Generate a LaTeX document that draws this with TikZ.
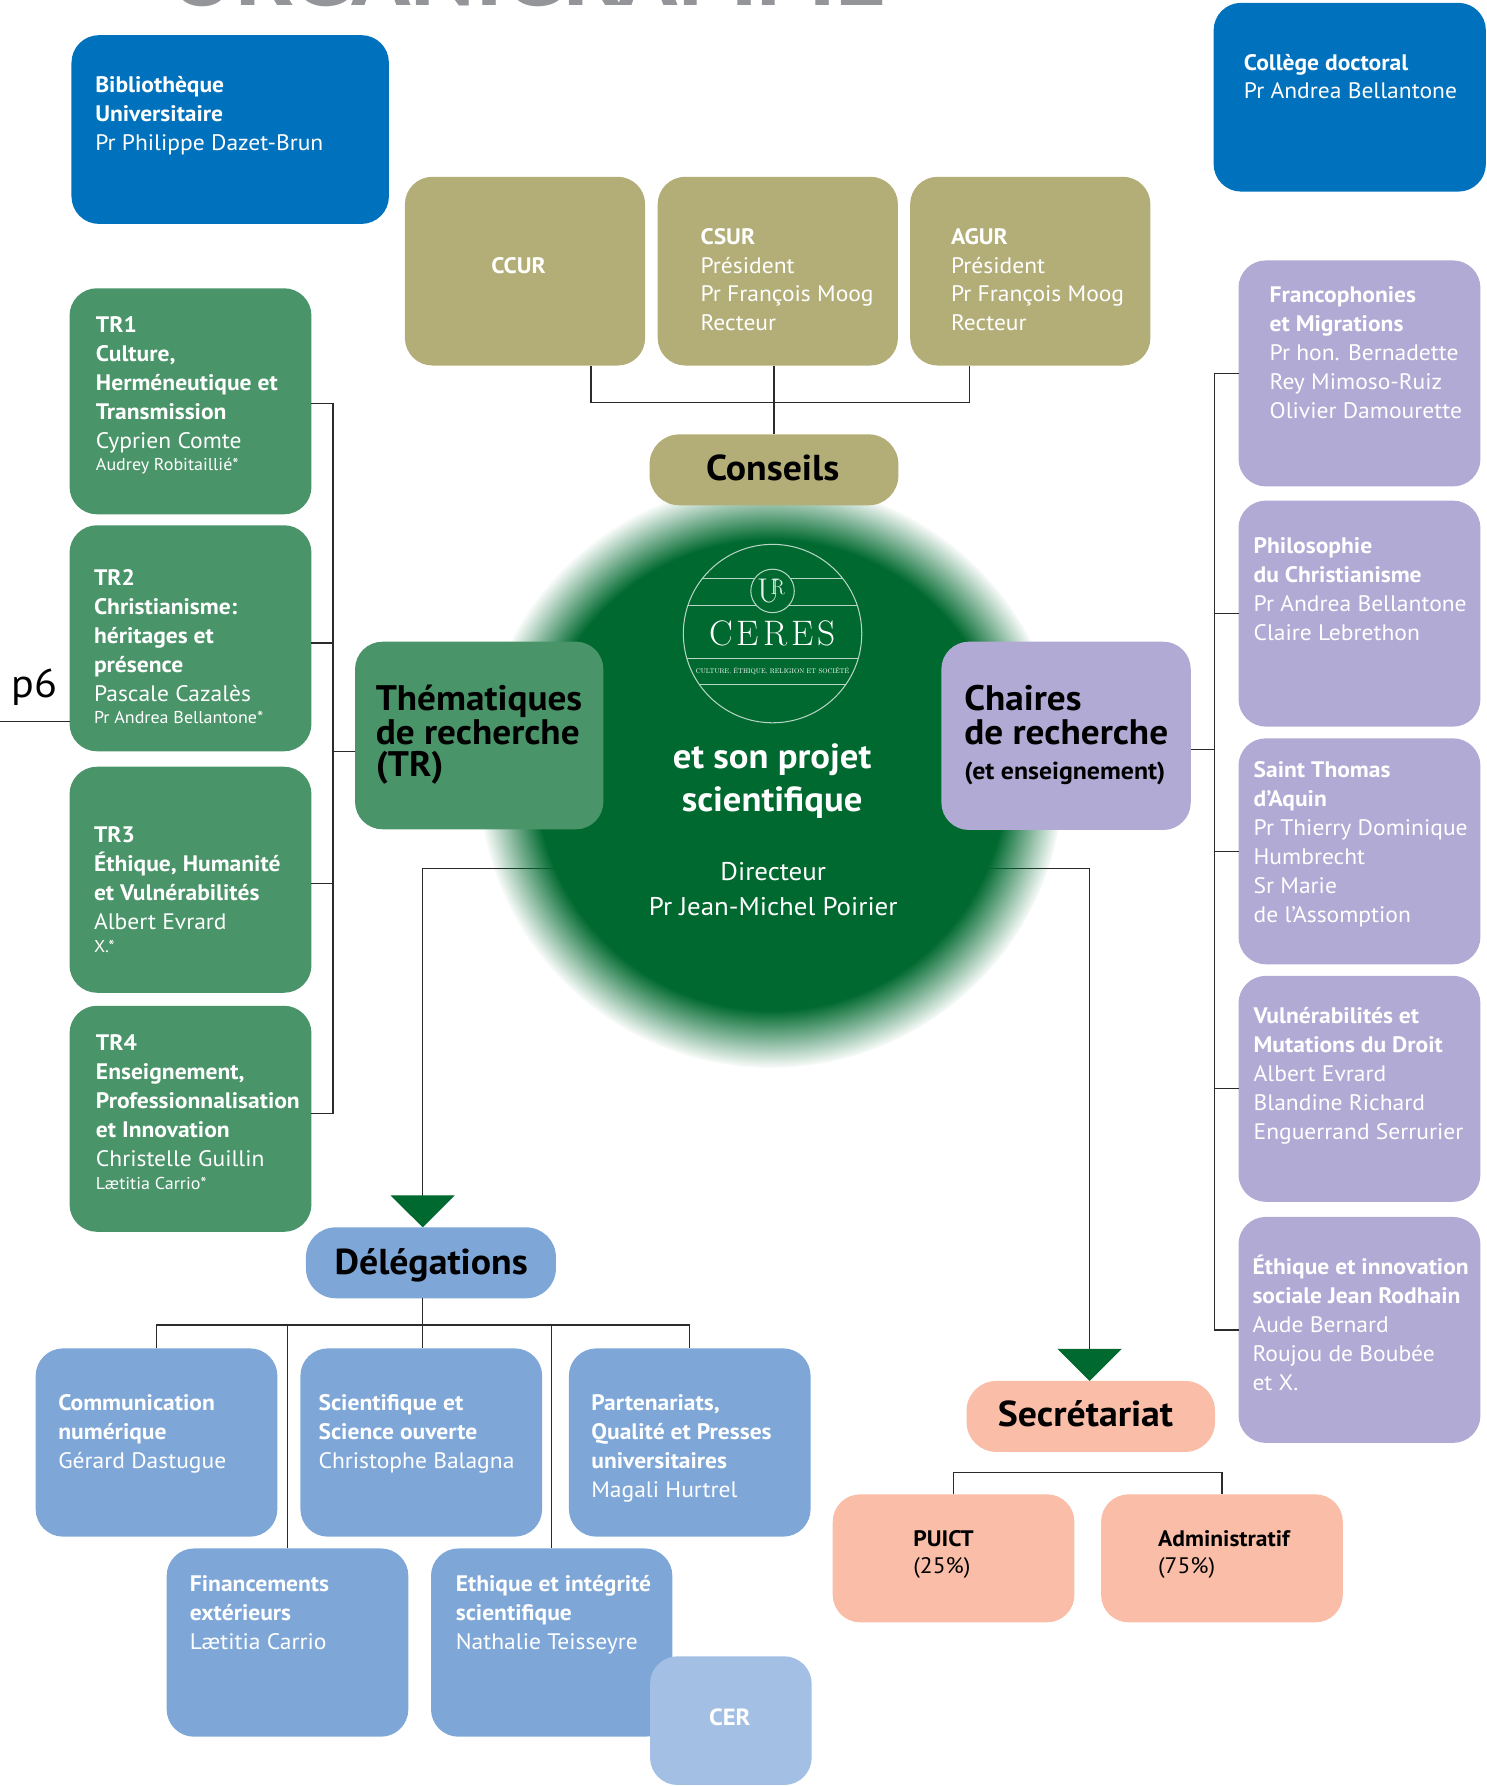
\documentclass[tikz,border=0pt]{standalone}
\usepackage{fontspec}
\usepackage{graphicx}
\newfontfamily\din[FakeStretch=1.05]{PT Sans}
\usetikzlibrary{arrows.meta,fadings}
\pgfdeclarelayer{back}
\pgfsetlayers{back,main}
\definecolor{cblue}{HTML}{0071BC}
\definecolor{colive}{HTML}{B3AE78}
\definecolor{ctrgreen}{HTML}{4A9469}
\definecolor{cdark}{HTML}{00692F}
\definecolor{clav}{HTML}{B0AAD4}
\definecolor{cdel}{HTML}{7EA7D8}
\definecolor{ccer}{HTML}{A3BFE4}
\definecolor{csal}{HTML}{F9BDA8}
\definecolor{cgrey}{HTML}{939598}
\definecolor{cline}{HTML}{2B2B2B}
\newcommand\lineB[1]{\hbox{\bfseries #1}}
\newcommand\lineN[1]{\hbox{#1}}
\newcommand\lineS[1]{\kern-5.7pt\hbox{\fontsize{15}{15}\selectfont #1}}
\newcommand\stk[1]{\vtop{\baselineskip=25.3pt\lineskiplimit=-100pt\lineskip=0pt #1}}
\newcommand\stkk[2]{\vtop{\baselineskip=#1\lineskiplimit=-100pt\lineskip=0pt #2}}
\begin{document}
\begin{tikzpicture}[x=1pt,y=-1pt,
  every node/.style={inner sep=0pt,outer sep=0pt},
  box/.style={rounded corners=24pt,minimum width=211pt,minimum height=165pt},
  tallbox/.style={rounded corners=24pt,minimum width=211.5pt,minimum height=197.6pt},
  pill/.style={rounded corners=26pt,minimum width=217.5pt,minimum height=62pt},
  tx/.style={anchor=base west,text=white,font=\din\fontsize{19.6}{25.3}\selectfont},
  pilltx/.style={anchor=base,text=black,font=\din\bfseries\fontsize{31.5}{31.5}\selectfont},
  link/.style={draw=cline,line width=1.15pt},
  logo/.style={draw=white!72!cdark,line width=0.9pt},
  gtip/.style={-{Triangle[width=56pt,length=28pt,color=cdark]}}
]
\useasboundingbox (0,0) rectangle (1300,1561.4);

% title (cut by the top edge)
\node[anchor=base west,text=cgrey,font=\din\bfseries] (title) at (148,5) {\resizebox{627pt}{!}{ORGANIGRAMME}};

% central glow
\coordinate (ctr) at (674,677.5);
\fill[cdark,path fading=circle with fuzzy edge 20 percent] (ctr) circle (256pt);

% logo
\draw[logo] (675.4,553.9) circle (78pt);
\draw[logo] (613.8,506.1) -- (737.0,506.1);
\draw[logo] (601.4,529.4) -- (749.4,529.4);
\draw[logo] (600.6,576.0) -- (750.2,576.0);
\draw[logo] (611.2,598.2) -- (739.6,598.2);
\filldraw[logo,fill=cdark] (675.4,516.6) circle (19pt);
\node[text=white!90!cdark,font=\rmfamily\fontsize{30}{30}\selectfont] (logoU) at (672,516.5) {U};
\node[text=white!90!cdark,font=\rmfamily\fontsize{19}{19}\selectfont] (logoR) at (680,513.5) {R};
\node[anchor=base,text=white,font=\rmfamily\fontsize{31}{31}\selectfont] (ceres) at (675.4,564.4) {C\kern3.5pt E\kern3.5pt R\kern3.5pt E\kern3.5pt S};
\node[anchor=base,text=white,font=\rmfamily] (tagline) at (675.4,589.2) {\resizebox{134pt}{!}{CULTURE, ÉTHIQUE, RELIGION ET SOCIÉTÉ}};
\node[anchor=base,text=white,font=\din\bfseries\fontsize{30.5}{30.5}\selectfont] (proj1) at (675,671.6) {et son projet};
\node[anchor=base,text=white,font=\din\bfseries\fontsize{30.5}{30.5}\selectfont] (proj2) at (675,709.5) {scientifique};
\node[anchor=base,text=white,font=\din\fontsize{22.4}{22.4}\selectfont] (dir1) at (676,770.1) {Directeur};
\node[anchor=base,text=white,font=\din\fontsize{22.4}{22.4}\selectfont] (dir2) at (676,800.7) {Pr Jean-Michel Poirier};

% top boxes
\node[box,fill=cblue,minimum width=277.5pt] (bib) at (201.25,113.25) {};
\node[tx] (bibt) at (83.3,81) {\stk{\lineB{Bibliothèque}\lineB{Universitaire}\lineN{Pr Philippe Dazet-Brun}}};
\node[box,fill=cblue,minimum width=238pt] (col) at (1180,85) {};
\node[tx] (colt) at (1087.5,61.2) {\stk{\lineB{Collège doctoral}\lineN{Pr Andrea Bellantone}}};

\node[box,fill=colive,minimum width=210pt] (ccur) at (459,237.05) {};
\node[tx,anchor=base,font=\din\bfseries\fontsize{19.6}{19.6}\selectfont] (ccurt) at (453.3,239.2) {CCUR};
\node[box,fill=colive,minimum width=210pt] (csur) at (680,237.05) {};
\node[tx] (csurt) at (612.5,213.4) {\stk{\lineB{CSUR}\lineN{Président}\lineN{Pr François Moog}\lineN{Recteur}}};
\node[box,fill=colive,minimum width=210pt] (agur) at (900.7,237.05) {};
\node[tx] (agurt) at (831.5,213.4) {\stk{\lineB{AGUR}\lineN{Président}\lineN{Pr François Moog}\lineN{Recteur}}};

\node[pill,fill=colive] (cons) at (676.65,410.75) {};
\node[pilltx] (const) at (675.5,420.2) {Conseils};

% centre boxes
\node[box,fill=ctrgreen,minimum width=217.1pt,minimum height=164pt] (thm) at (418.95,643) {};
\node[anchor=base west,font=\din\bfseries\fontsize{31}{30}\selectfont] (thmt) at (328.5,621.3) {\stkk{30pt}{\lineN{Thématiques}\lineN{de recherche}\kern-2.3pt\lineN{(TR)}}};
\node[box,fill=clav,minimum width=218pt,minimum height=164.6pt] (cha) at (932,643.3) {};
\node[anchor=base west,font=\din\bfseries\fontsize{31}{30}\selectfont] (chat) at (843,621.3) {\stkk{30pt}{\lineN{Chaires}\lineN{de recherche}\lineN{\fontsize{21.5}{21.5}\selectfont(et enseignement)}}};

% TR column
\node[tallbox,fill=ctrgreen] (tr1) at (166.55,350.8) {};
\node[tx] (tr1t) at (83.9,290.8) {\stk{\lineB{TR1}\lineB{Culture,}\lineB{Herméneutique et}\lineB{Transmission}\lineN{Cyprien Comte}\lineS{Audrey Robitaillié*}}};
\node[tallbox,fill=ctrgreen] (tr2) at (166.55,558) {};
\node[tx] (tr2t) at (82.2,511.7) {\stk{\lineB{TR2}\lineB{Christianisme:}\lineB{héritages et}\lineB{présence}\lineN{Pascale Cazalès}\lineS{Pr Andrea Bellantone*}}};
\node[tallbox,fill=ctrgreen] (tr3) at (166.55,769.1) {};
\node[tx] (tr3t) at (82.2,736.8) {\stk{\lineB{TR3}\lineB{Éthique, Humanité}\lineB{et Vulnérabilités}\lineN{Albert Evrard}\lineS{X.*}}};
\node[tallbox,fill=ctrgreen] (tr4) at (166.55,978.1) {};
\node[tx] (tr4t) at (83.9,918.8) {\stk{\lineB{TR4}\lineB{Enseignement,}\lineB{Professionnalisation}\lineB{et Innovation}\lineN{Christelle Guillin}\lineS{Lætitia Carrio*}}};

\node[anchor=base west,font=\din\fontsize{35}{35}\selectfont] (p6) at (10.2,609.9) {p6};

% chairs column
\node[tallbox,fill=clav] (fra) at (1188.5,326.45) {};
\node[tx] (frat) at (1110,264.3) {\stk{\lineB{Francophonies}\lineB{et Migrations}\lineN{Pr hon. Bernadette}\lineN{Rey Mimoso-Ruiz}\lineN{Olivier Damourette}}};
\node[tallbox,fill=clav] (phi) at (1188.5,536.45) {};
\node[tx] (phit) at (1096,484.1) {\stk{\lineB{Philosophie}\lineB{du Christianisme}\lineN{Pr Andrea Bellantone}\lineN{Claire Lebrethon}}};
\node[tallbox,fill=clav] (sth) at (1188.5,744.25) {};
\node[tx] (stht) at (1096,679.6) {\stk{\lineB{Saint Thomas}\lineB{d’Aquin}\lineN{Pr Thierry Dominique}\lineN{Humbrecht}\lineN{Sr Marie}\lineN{de l’Assomption}}};
\node[tallbox,fill=clav] (vul) at (1188.5,951.9) {};
\node[tx] (vult) at (1096,895.1) {\stk{\lineB{Vulnérabilités et}\lineB{Mutations du Droit}\lineN{Albert Evrard}\lineN{Blandine Richard}\lineN{Enguerrand Serrurier}}};
\node[tallbox,fill=clav] (eth) at (1188.5,1162.65) {};
\node[tx] (etht) at (1095,1114.1) {\stk{\lineB{Éthique et innovation}\lineB{sociale Jean Rodhain}\lineN{Aude Bernard}\lineN{Roujou de Boubée}\lineN{et X.}}};

% délégations
\node[pill,fill=cdel,minimum width=218.5pt] (del) at (376.75,1104) {};
\node[pilltx] (delt) at (377,1114) {Délégations};
\node[box,fill=cdel,minimum width=211.3pt,minimum height=164.6pt] (com) at (136.85,1261.1) {};
\node[tx] (comt) at (51,1233.2) {\stk{\lineB{Communication}\lineB{numérique}\lineN{Gérard Dastugue}}};
\node[box,fill=cdel,minimum width=211.3pt,minimum height=164.6pt] (sci) at (368.3,1261.1) {};
\node[tx] (scit) at (278.5,1233.2) {\stk{\lineB{Scientifique et}\lineB{Science ouverte}\lineN{Christophe Balagna}}};
\node[box,fill=cdel,minimum width=211.3pt,minimum height=164.6pt] (par) at (603,1261.1) {};
\node[tx] (part) at (517,1233.2) {\stk{\lineB{Partenariats,}\lineB{Qualité et Presses}\lineB{universitaires}\lineN{Magali Hurtrel}}};
\node[box,fill=cdel,minimum width=211.3pt,minimum height=164.6pt] (fin) at (251.35,1436) {};
\node[tx] (fint) at (166,1391.6) {\stk{\lineB{Financements}\lineB{extérieurs}\lineN{Lætitia Carrio}}};
\node[box,fill=cdel,minimum width=211pt,minimum height=164.6pt] (eti) at (482.3,1436) {};
\node[tx] (etit) at (398.5,1391.6) {\stk{\lineB{Ethique et intégrité}\lineB{scientifique}\lineN{Nathalie Teisseyre}}};
\node[box,fill=ccer,minimum width=141.3pt,minimum height=112.5pt] (cer) at (638.95,1504.25) {};
\node[anchor=base,text=white,font=\din\bfseries\fontsize{20.5}{20.5}\selectfont] (cert) at (638,1508.1) {CER};

% secrétariat
\node[pill,fill=csal,minimum width=217.2pt] (sec) at (953.6,1238.3) {};
\node[pilltx] (sect) at (949,1247.3) {Secrétariat};
\node[box,fill=csal,minimum width=211.3pt,minimum height=111.9pt] (puict) at (833.65,1362.35) {};
\node[tx,text=black] (puictt) at (798.5,1351.6) {\stkk{24pt}{\lineB{PUICT}\lineN{(25\%)}}};
\node[box,fill=csal,minimum width=211.3pt,minimum height=111.9pt] (admin) at (1068.3,1362.35) {};
\node[tx,text=black] (admint) at (1012.5,1351.6) {\stkk{24pt}{\lineB{Administratif}\lineN{(75\%)}}};

% connectors under the glow
\coordinate (dl) at (369.5,759);
\coordinate (dr) at (952.6,759);
\begin{pgfonlayer}{back}
\draw[link,gtip] (dl -| ctr) -- (dl) -- (dl |- del.north);
\draw[link,gtip] (dr -| ctr) -- (dr) -- (dr |- sec.north);
\end{pgfonlayer}

% conseils tree
\coordinate (cj) at (676.7,352);
\draw[link] ([xshift=57.6pt]ccur.south) |- (cj) -| ([xshift=-53.2pt]agur.south);
\draw[link] (csur.south -| cons.north) -- (cons.north);

% TR tree
\coordinate (tj) at (291,657);
\draw[link] ([yshift=-2pt]tr1.east) -- ([yshift=-2pt]tr1.east -| tj) -- ([yshift=4.4pt]tr4.east -| tj) -- ([yshift=4.4pt]tr4.east);
\draw[link] ([yshift=-4pt]tr2.east) -- ([yshift=-4pt]tr2.east -| tj);
\draw[link] ([yshift=-3.5pt]tr3.east) -- ([yshift=-3.5pt]tr3.east -| tj);
\draw[link] (tj) -- (tj -| thm.west);
\coordinate (p6l) at (0,631);
\draw[link] (p6l) -- (p6l -| tr2.west);

% chairs tree
\coordinate (rj) at (1062,655);
\draw[link] (rj -| cha.east) -- (rj);
\draw[link] (fra.west) -- (fra.west -| rj) -- (eth.west -| rj) -- (eth.west);
\draw[link] (phi.west) -- (phi.west -| rj);
\draw[link] (sth.west) -- (sth.west -| rj);
\draw[link] (vul.west) -- (vul.west -| rj);

% délégations tree
\coordinate (dj) at (369.5,1158.4);
\draw[link] (dj |- del.south) -- (dj |- sci.north);
\draw[link] (com.north) |- (dj -| par.north) -- (par.north);
\draw[link] (fin.north) -- (fin.north |- dj);
\draw[link] (eti.north) -- (eti.north |- dj);

% secrétariat tree
\draw[link] (puict.north) -- ++(0,-19.2) -| (admin.north);
\end{tikzpicture}
\end{document}
